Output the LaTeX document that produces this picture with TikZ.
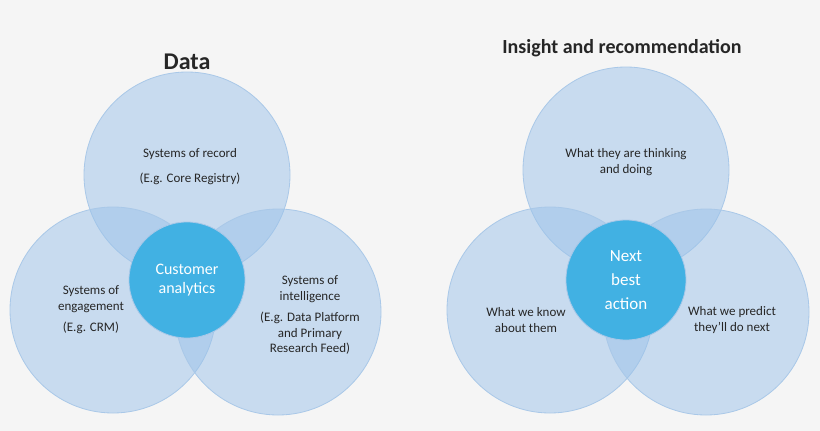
\documentclass[tikz,border=0pt]{standalone}
\usepackage{fontspec}
\setmainfont{Carlito}
\usetikzlibrary{positioning}
\definecolor{bg}{HTML}{F5F5F5}
\definecolor{ring}{HTML}{A9C8E8}
\definecolor{fillb}{HTML}{9CC3EA}
\definecolor{core}{HTML}{41B1E3}
\tikzset{
  big/.style={draw=ring, thick, circle, fill=fillb, fill opacity=.5, minimum size=206pt, inner sep=0pt},
  hub/.style={draw=ring, thick, circle, fill=core, text=white, minimum size=116pt, font=\fontsize{16}{19}\selectfont, align=center},
  lab/.style={align=center, font=\fontsize{13}{15.5}\selectfont, text=black!85},
  title/.style={font=\bfseries, text=black!85}
}
\begin{document}
\begin{tikzpicture}[x=1pt,y=-1pt]
\useasboundingbox[fill=bg] (0,0) rectangle (820,431);
% Data
\node[title, font=\bfseries\fontsize{24}{28}\selectfont] (tdata) at (187,62) {Data};
\node[big] (rec) at (187,175) {};
\node[big] (eng) at (113,310) {};
\node[big] (intel) at (278,312) {};
\node[hub] (cust) at (187,280) {Customer\\analytics};
\node[lab] (trec) at (190,154) {Systems of record};
\node[lab] (trec2) at (190,179) {(E.g. Core Registry)};
\node[lab] (teng) at (91,310) {Systems of\\engagement\\[6pt](E.g. CRM)};
\node[lab] (tint) at (310,315) {Systems of\\intelligence\\[6pt](E.g. Data Platform\\and Primary\\Research Feed)};
% Insight
\node[title, font=\bfseries\fontsize{20}{24}\selectfont] (tins) at (622,48) {Insight and recommendation};
\node[big] (think) at (626,170) {};
\node[big] (know) at (550,310) {};
\node[big] (pred) at (706,312) {};
\node[hub, minimum size=120pt, font=\fontsize{17}{24}\selectfont] (nba) at (626,280) {Next\\best\\action};
\node[lab] (tthink) at (626,162) {What they are thinking\\and doing};
\node[lab] (tknow) at (526,320) {What we know\\about them};
\node[lab] (tpred) at (732,320) {What we predict\\they’ll do next};
\end{tikzpicture}
\end{document}
